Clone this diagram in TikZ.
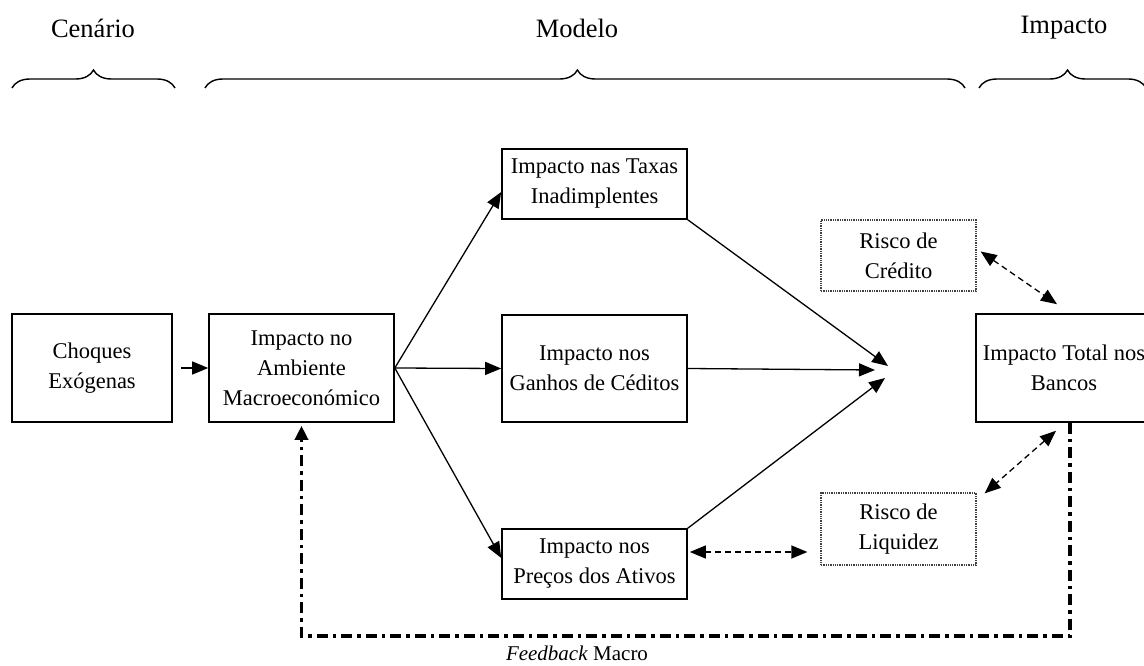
\documentclass[tikz,border=0pt]{standalone}
\usepackage{fontspec}
\setmainfont{Liberation Serif}
\usetikzlibrary{arrows.meta,decorations.pathreplacing,calc}
\begin{document}
\begin{tikzpicture}[x=1pt,y=-1pt,
  box/.style={draw,line width=1.6pt,inner sep=0pt,align=center,font=\fontsize{22.5}{30}\selectfont},
  riskbox/.style={draw=black!75,densely dotted,line width=1.3pt,inner sep=0pt,align=center,font=\fontsize{22.5}{30}\selectfont},
  head/.style={font=\fontsize{26.5}{30}\selectfont},
  arr/.style={line width=1.3pt,-{Triangle[length=16pt,width=13pt]}},
  darr/.style={line width=1.3pt,dash pattern=on 6pt off 4pt,{Triangle[length=16pt,width=13pt]}-{Triangle[length=16pt,width=13pt]}},
  fb/.style={line width=3.4pt,dash pattern=on 11pt off 5pt on 3.5pt off 5pt,-{Triangle[length=14pt,width=13pt]}},
  brc/.style={line width=1.4pt,decorate,decoration={brace,amplitude=18pt}}
]
\useasboundingbox (0,0) rectangle (1144,666);

% headers
\node[head] (hcen) at (93,28) {Cenário};
\node[head] (hmod) at (577,28) {Modelo};
\node[head] (himp) at (1064,28) {Impacto};

% braces
\draw[brc,decoration={aspect=0.5}] (12,88) -- (175,88);
\draw[brc,decoration={aspect=0.49}] (205,88) -- (965,88);
\draw[brc,decoration={aspect=0.53}] (979,88) -- (1146,88);

% boxes
\node[box,minimum width=160pt,minimum height=108pt] (cho) at (92,368) {Choques\\Exógenas};
\node[box,minimum width=185pt,minimum height=108pt] (amb) at (301.5,368) {Impacto no\\Ambiente\\Macroeconómico};
\node[box,minimum width=185pt,minimum height=70pt] (tax) at (594.5,184) {Impacto nas Taxas\\Inadimplentes};
\node[box,minimum width=185pt,minimum height=107pt] (gan) at (594.5,368.5) {Impacto nos\\Ganhos de Céditos};
\node[box,minimum width=185pt,minimum height=70pt] (pre) at (594.5,564) {Impacto nos\\Preços dos Ativos};
\node[riskbox,minimum width=155pt,minimum height=71pt] (cred) at (898.5,255.5) {Risco de\\Crédito};
\node[riskbox,minimum width=155pt,minimum height=72pt] (liq) at (898.5,529) {Risco de\\Liquidez};
\node[box,minimum width=176pt,minimum height=108pt] (tot) at (1064,368) {Impacto Total nos\\Bancos};

% convergence points
\coordinate (c1) at (888,366);
\coordinate (c2) at (875,370);
\coordinate (c3) at (885,378);

% connectors
\draw[arr] ([xshift=8pt]cho.east) -- (amb.west);
\draw[arr] (amb.east) -- ([yshift=-8pt]tax.west);
\draw[arr] (amb.east) -- (gan.west);
\draw[arr] (amb.east) -- ([yshift=6pt]pre.west);
\draw[arr] (tax.south east) -- (c1);
\draw[arr] (gan.east) -- (c2);
\draw[arr] (pre.north east) -- (c3);

\draw[darr] ([xshift=4pt,yshift=4pt]cred.east) -- ([xshift=-7pt,yshift=9pt]tot.north);
\draw[darr] ([xshift=-8pt,yshift=-8pt]tot.south) -- ([xshift=8pt,yshift=-1pt]liq.north east);
\draw[darr] ([xshift=2pt,yshift=12pt]pre.east) -- ([xshift=-13pt,yshift=-23pt]liq.west);

% feedback loop
\coordinate (fbr) at (1070,636);
\draw[fb] ([xshift=6pt]tot.south) -- (fbr) -| ([yshift=-3pt]amb.south);
\node[font=\fontsize{21}{26}\selectfont] (fbl) at (577,653) {\textit{Feedback} Macro};
\end{tikzpicture}
\end{document}
